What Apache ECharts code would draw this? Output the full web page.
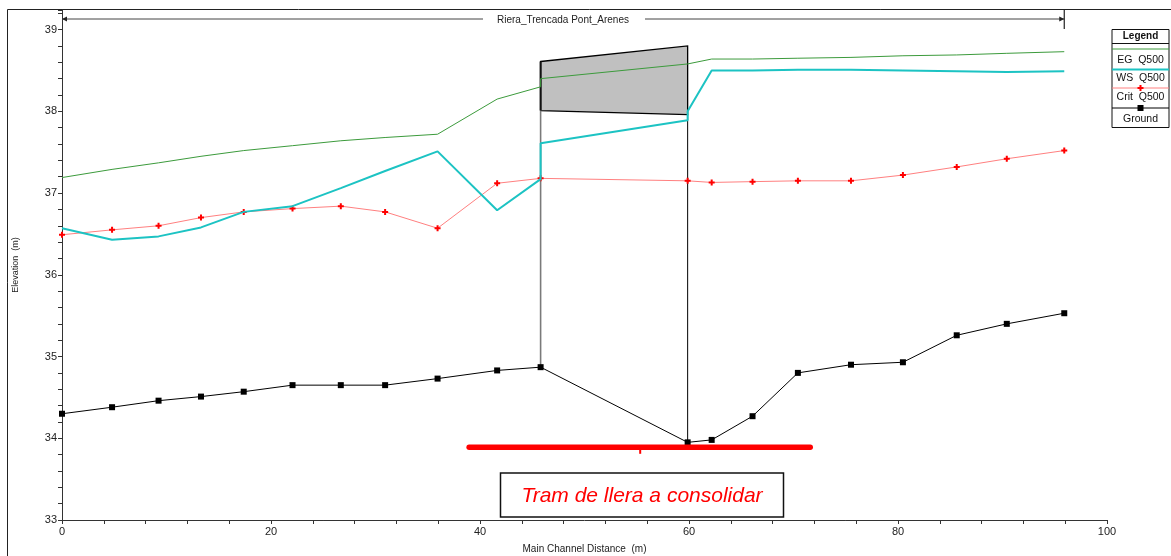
<!DOCTYPE html>
<html>
<head>
<meta charset="utf-8">
<script src="https://cdn.jsdelivr.net/npm/echarts@6/dist/echarts.min.js"></script>
<style>
  html, body { margin: 0; padding: 0; background: #fff; }
  #chart { width: 1171px; height: 556px; }
</style>
</head>
<body>
<div id="chart"></div>
<script>
const FONT = '"Liberation Sans", Arial, sans-serif';

// River stations along the main channel (m)
const stations = [0, 4.79, 9.24, 13.3, 17.39, 22.06, 26.68, 30.92, 35.94, 41.64, 45.8, 59.87, 62.17, 66.08, 70.42, 75.5, 80.47, 85.62, 90.41, 95.91];
// Channel bed elevation (m)
const ground = [34.30, 34.38, 34.46, 34.51, 34.57, 34.65, 34.65, 34.65, 34.73, 34.83, 34.87, 33.95, 33.98, 34.27, 34.80, 34.90, 34.93, 35.26, 35.40, 35.53];
// Critical depth elevation (m)
const crit = [36.49, 36.55, 36.60, 36.70, 36.77, 36.81, 36.84, 36.77, 36.57, 37.12, 37.18, 37.15, 37.13, 37.14, 37.15, 37.15, 37.22, 37.32, 37.42, 37.52];
// Water surface and energy grade: the bridge faces carry two values (outside / inside)
const profStations = [0, 4.79, 9.24, 13.3, 17.39, 22.06, 26.68, 30.92, 35.94, 41.64, 45.8, 45.8, 59.87, 59.87, 62.17, 66.08, 70.42, 75.5, 80.47, 85.62, 90.41, 95.91];
const wsElev = [36.57, 36.43, 36.47, 36.58, 36.77, 36.84, 37.06, 37.27, 37.51, 36.79, 37.17, 37.61, 37.89, 38.00, 38.50, 38.50, 38.51, 38.51, 38.50, 38.49, 38.48, 38.49];
const egElev = [37.19, 37.29, 37.37, 37.45, 37.52, 37.58, 37.64, 37.68, 37.72, 38.15, 38.30, 38.40, 38.58, 38.58, 38.64, 38.64, 38.65, 38.66, 38.68, 38.69, 38.71, 38.73];
// Bridge deck (high chord / low chord) at the two faces
const deckStations = [45.8, 59.87];
const deckHigh = [38.61, 38.80];
const deckLow = [38.01, 37.96];
// Reach to be consolidated
const reachStart = 38.96, reachEnd = 71.6, reachMid = 55.33, reachElev = 33.89;

const xLabels = [0, 20, 40, 60, 80, 100];
const yLabels = [33, 34, 35, 36, 37, 38, 39];

const zip = (xs, ys) => xs.map((x, i) => [x, ys[i]]);
const plusSymbol = 'path://M2,0H4V2H6V4H4V6H2V4H0V2H2Z';

const chart = echarts.init(document.getElementById('chart'), null, { renderer: 'canvas' });

const axisCommon = {
  axisLine: { lineStyle: { color: '#333', width: 1 } },
  axisTick: { show: true, length: 4, lineStyle: { color: '#333' } },
  splitLine: { show: false },
  axisLabel: { color: '#222', fontSize: 11, fontFamily: FONT },
  nameTextStyle: { color: '#222', fontSize: 9, fontFamily: FONT }
};

chart.setOption({
  animation: false,
  backgroundColor: '#fff',
  grid: { left: 62, right: 64, top: 10, bottom: 36, containLabel: false, outerBoundsMode: 'none' },
  xAxis: Object.assign({}, axisCommon, {
    type: 'value', min: 0, max: 100, interval: 4,
    name: 'Main Channel Distance  (m)', nameLocation: 'middle', nameGap: 24,
    nameTextStyle: { color: '#222', fontSize: 10, fontFamily: FONT },
    axisLabel: Object.assign({}, axisCommon.axisLabel, {
      margin: 6,
      formatter: v => (xLabels.indexOf(Math.round(v * 1000) / 1000) >= 0 ? String(v) : '')
    })
  }),
  yAxis: Object.assign({}, axisCommon, {
    type: 'value', min: 33, max: 39.24, interval: 0.2,
    name: 'Elevation  (m)', nameLocation: 'middle', nameGap: 42,
    axisLabel: Object.assign({}, axisCommon.axisLabel, {
      margin: 5,
      formatter: v => (yLabels.indexOf(Math.round(v * 1000) / 1000) >= 0 ? String(Math.round(v)) : '')
    })
  }),
  series: [
    {
      name: 'Deck', type: 'custom', z: 1,
      data: [[deckStations[0], deckStations[1], deckHigh[0], deckHigh[1], deckLow[0], deckLow[1]]],
      encode: { x: [0, 1], y: [2, 3, 4, 5] },
      renderItem: (params, api) => {
        const pts = [
          api.coord([api.value(0), api.value(2)]),
          api.coord([api.value(1), api.value(3)]),
          api.coord([api.value(1), api.value(5)]),
          api.coord([api.value(0), api.value(4)])
        ];
        return {
          type: 'group',
          children: [
            { type: 'polygon', shape: { points: pts }, style: { fill: '#c0c0c0', stroke: '#000', lineWidth: 1.3 } },
            { type: 'line', shape: { x1: pts[0][0], y1: pts[0][1], x2: pts[3][0], y2: pts[3][1] }, style: { stroke: '#111', lineWidth: 2 } }
          ]
        };
      }
    },
    {
      name: 'Upstream face', type: 'line', z: 2, symbol: 'none', silent: true,
      data: [[deckStations[0], deckLow[0]], [deckStations[0], ground[10]]],
      lineStyle: { color: '#7a7a7a', width: 1.6 }
    },
    {
      name: 'Downstream face', type: 'line', z: 2, symbol: 'none', silent: true,
      data: [[deckStations[1], deckLow[1]], [deckStations[1], ground[11]]],
      lineStyle: { color: '#000', width: 1 }
    },
    {
      name: 'EG  Q500', type: 'line', z: 5, symbol: 'none',
      data: zip(profStations, egElev),
      lineStyle: { color: '#3c9b3c', width: 1 }
    },
    {
      name: 'Crit  Q500', type: 'line', z: 4, symbol: plusSymbol, symbolSize: 6, showAllSymbol: true,
      data: zip(stations, crit),
      itemStyle: { color: '#ff0000' },
      lineStyle: { color: '#ff8080', width: 1 }
    },
    {
      name: 'WS  Q500', type: 'line', z: 6, symbol: 'none',
      data: zip(profStations, wsElev),
      lineStyle: { color: '#1cc3c3', width: 2 }
    },
    {
      name: 'Ground', type: 'line', z: 7, symbol: 'rect', symbolSize: 6, showAllSymbol: true,
      data: zip(stations, ground),
      itemStyle: { color: '#000' },
      lineStyle: { color: '#000', width: 1 }
    },
    {
      name: 'Reach', type: 'line', z: 8, symbol: 'none', silent: true,
      data: [[reachStart, reachElev], [reachEnd, reachElev]],
      lineStyle: { color: '#ff0000', width: 5.5, cap: 'round' }
    },
    {
      name: 'Reach mid', type: 'line', z: 8, symbol: 'none', silent: true,
      data: [[reachMid, reachElev], [reachMid, reachElev - 0.08]],
      lineStyle: { color: '#ff0000', width: 2 }
    }
  ]
});

// Reach title arrow across the top, legend box and note box
const x0 = chart.convertToPixel({ xAxisIndex: 0 }, stations[0]);
const x1 = chart.convertToPixel({ xAxisIndex: 0 }, stations[stations.length - 1]);
const arrowY = 19;
const lgX = 1112, lgW = 57;
const lgCx = lgX + lgW / 2;
const txt = (x, y, s, extra) => ({
  type: 'text', x: x, y: y,
  style: Object.assign({ text: s, fill: '#111', font: '10.5px ' + FONT, align: 'center', verticalAlign: 'middle' }, extra || {})
});
const hline = (y, color, w) => ({ type: 'line', shape: { x1: lgX, y1: y, x2: lgX + lgW, y2: y }, style: { stroke: color, lineWidth: w } });
const plusPts = [[2, 0], [4, 0], [4, 2], [6, 2], [6, 4], [4, 4], [4, 6], [2, 6], [2, 4], [0, 4], [0, 2], [2, 2]]
  .map(p => [p[0] + lgCx - 3, p[1] + 85]);

chart.setOption({
  graphic: [
    // outer frame (left and top edges)
    { type: 'polyline', shape: { points: [[7.5, 556], [7.5, 9.5], [1171, 9.5]] }, style: { stroke: '#222', fill: null, lineWidth: 1 } },
    // reach arrow
    { type: 'line', shape: { x1: x0, y1: arrowY, x2: 483, y2: arrowY }, style: { stroke: '#444', lineWidth: 1 } },
    { type: 'line', shape: { x1: 645, y1: arrowY, x2: x1, y2: arrowY }, style: { stroke: '#444', lineWidth: 1 } },
    { type: 'polygon', shape: { points: [[x0, arrowY], [x0 + 5, arrowY - 2.5], [x0 + 5, arrowY + 2.5]] }, style: { fill: '#222' } },
    { type: 'polygon', shape: { points: [[x1, arrowY], [x1 - 5, arrowY - 2.5], [x1 - 5, arrowY + 2.5]] }, style: { fill: '#222' } },
    { type: 'line', shape: { x1: x1, y1: 10, x2: x1, y2: 29 }, style: { stroke: '#222', lineWidth: 1.2 } },
    txt(563, 20, 'Riera_Trencada Pont_Arenes', { font: '10px ' + FONT, fill: '#222' }),
    // legend
    { type: 'rect', z: 50, shape: { x: lgX, y: 29.5, width: lgW, height: 98 }, style: { fill: '#fff', stroke: '#111', lineWidth: 1 } },
    Object.assign(txt(lgCx, 36, 'Legend', { font: 'bold 10px ' + FONT }), { z: 51 }),
    Object.assign(hline(43.5, '#111', 1), { z: 51 }),
    Object.assign(hline(49, '#3c9b3c', 1), { z: 51 }),
    Object.assign(txt(lgCx, 60.5, 'EG  Q500'), { z: 51 }),
    Object.assign(hline(69.5, '#1cc3c3', 2), { z: 51 }),
    Object.assign(txt(lgCx, 78.5, 'WS  Q500'), { z: 51 }),
    Object.assign(hline(88, '#ff8080', 1), { z: 51 }),
    { type: 'polygon', z: 52, shape: { points: plusPts }, style: { fill: '#ff0000' } },
    Object.assign(txt(lgCx, 97.5, 'Crit  Q500'), { z: 51 }),
    Object.assign(hline(108, '#000', 1), { z: 51 }),
    { type: 'rect', z: 52, shape: { x: lgCx - 3, y: 105, width: 6, height: 6 }, style: { fill: '#000' } },
    Object.assign(txt(lgCx, 119, 'Ground'), { z: 51 }),
    // note box
    { type: 'rect', z: 40, shape: { x: 500.5, y: 473, width: 283, height: 44 }, style: { fill: '#fff', stroke: '#111', lineWidth: 1.5 } },
    Object.assign(txt(642, 496, 'Tram de llera a consolidar', { font: 'italic 21px ' + FONT, fill: '#ff0000' }), { z: 41 })
  ]
});
</script>
</body>
</html>
